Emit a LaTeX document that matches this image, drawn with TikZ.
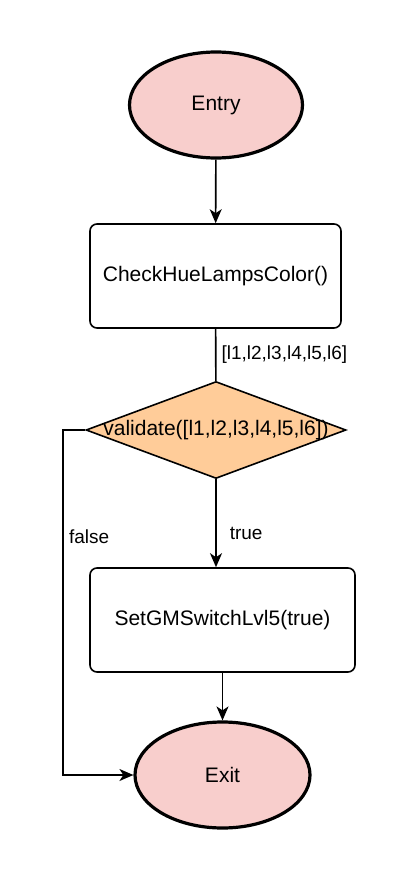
\documentclass[tikz,border=0pt]{standalone}
\usepackage{fontspec}
\setmainfont{Liberation Sans}
\usetikzlibrary{arrows.meta,shapes.geometric}
\definecolor{termfill}{HTML}{F8CECC}
\definecolor{decfill}{HTML}{FFCC99}
\tikzset{terminal/.style={ellipse,draw,line width=3.2pt,fill=termfill,minimum width=173pt,minimum height=106pt,inner sep=0pt,font=\fontsize{21}{25}\selectfont},
  proc/.style={draw,line width=1.6pt,rounded corners=7pt,fill=white,minimum width=251pt,minimum height=104pt,inner sep=0pt,font=\fontsize{21}{25}\selectfont},
  decide/.style={diamond,draw,line width=1.6pt,fill=decfill,minimum width=260pt,minimum height=97pt,inner sep=0pt,font=\fontsize{21}{25}\selectfont},
  lbl/.style={font=\fontsize{19}{23}\selectfont,inner sep=5pt},
  arr/.style={-{Stealth[length=14pt,width=12pt,inset=4pt]},line width=1.6pt}}
\begin{document}
\begin{tikzpicture}[x=1pt,y=-1pt]
\useasboundingbox (0,0) rectangle (406,878);
\node[terminal] (entry) at (216,105) {Entry};
\node[proc] (chk) at (215.5,276) {CheckHueLampsColor()};
\node[decide] (dec) at (216,430) {\makebox[0pt]{validate([l1,l2,l3,l4,l5,l6])}};
\node[proc,minimum width=265pt] (sw) at (222.5,620) {SetGMSwitchLvl5(true)};
\node[terminal,minimum width=175pt] (exit) at (222.5,775) {Exit};
\draw[arr] (entry) -- (chk);
\draw[line width=1.6pt] (chk) -- node[midway,right,lbl]{[l1,l2,l3,l4,l5,l6]} (dec);
\draw[arr] (dec) -- node[pos=0.62,right,lbl,xshift=8pt]{true} (dec|-sw.north);
\draw[arr] (sw.south-|exit) -- (exit);
\draw[arr] (dec.west) -- ++(-22,0) |- node[pos=0.155,right,lbl]{false} (exit.west);
\end{tikzpicture}
\end{document}
